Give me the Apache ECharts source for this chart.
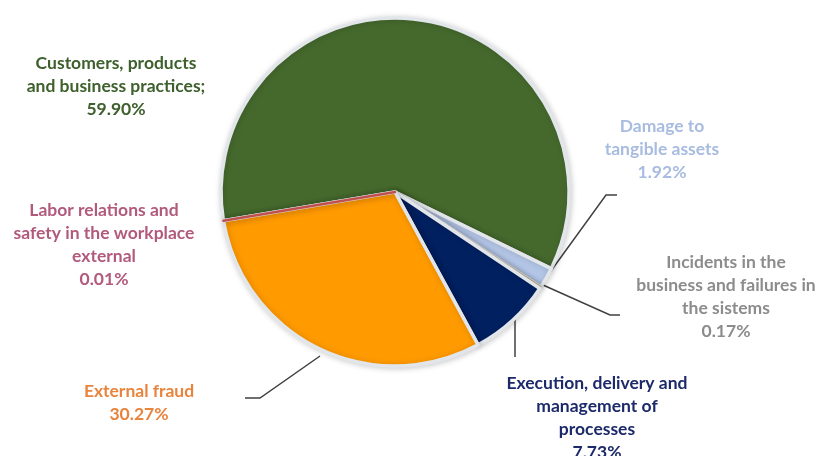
<!DOCTYPE html>
<html>
<head>
<meta charset="utf-8">
<script src="https://cdn.jsdelivr.net/npm/echarts@6/dist/echarts.min.js"></script>
<style>
  html, body { margin: 0; padding: 0; background: #ffffff; }
  #chart { width: 818px; height: 456px; }
</style>
</head>
<body>
<div id="chart"></div>
<script>
// Operational loss events by category (share of total, %)
const categories = [
  'Customers, products\nand business practices',
  'Damage to\ntangible assets',
  'Incidents in the\nbusiness and failures in\nthe sistems',
  'Execution, delivery and\nmanagement of\nprocesses',
  'External fraud',
  'Labor relations and\nsafety in the workplace\nexternal'
];
const shares = [59.90, 1.92, 0.17, 7.73, 30.27, 0.01];

const sliceColors = ['#45692D', '#B4C6E7', '#B5A57A', '#002060', '#FF9A00', '#C0504D'];
const labelColors = ['#3D602C', '#A8BBE0', '#8C8C8C', '#1C2A6A', '#E8843C', '#B25A7C'];

// label anchor (centre x, top y) and leader line per slice
const labelSpots = [
  { x: 116, y: 52, line: null },
  { x: 662, y: 115, line: [[548, 275], [606, 195], [617, 195]] },
  { x: 726, y: 251, line: [[543, 285], [610, 315], [620, 315]] },
  { x: 597, y: 372, line: [[515, 318], [515, 338], [515, 357]] },
  { x: 139, y: 380, line: [[320, 356], [260, 398], [245, 398]] },
  { x: 104, y: 199, line: null }
];

const chart = echarts.init(document.getElementById('chart'), null, { renderer: 'canvas' });

const data = categories.map((name, i) => ({
  name: name,
  value: shares[i],
  itemStyle: {
    color: sliceColors[i],
    borderColor: (i === 2 || i === 5) ? sliceColors[i] : '#E2E6EB',
    borderWidth: i === 2 ? 1.5 : (i === 5 ? 2.5 : 3.5)
  },
  label: { color: labelColors[i] },
  labelLine: { show: !!labelSpots[i].line }
}));

chart.setOption({
  animation: false,
  series: [{
    type: 'pie',
    center: [395, 192],
    radius: 174,
    startAngle: 189.5,
    clockwise: true,
    avoidLabelOverlap: false,
    data: data,
    itemStyle: {
      shadowBlur: 6,
      shadowColor: 'rgba(0,0,0,0.18)',
      shadowOffsetX: 1,
      shadowOffsetY: 1
    },
    label: {
      show: true,
      position: 'outside',
      fontFamily: 'Lato',
      fontWeight: 'bold',
      fontSize: 17.5,
      lineHeight: 23,
      align: 'center',
      formatter: p => p.name + (p.dataIndex === 0 ? ';' : '') + '\n' + p.value.toFixed(2) + '%'
    },
    labelLine: {
      show: true,
      lineStyle: { color: '#404040', width: 1.5 }
    },
    labelLayout: function (params) {
      const s = labelSpots[params.dataIndex];
      const out = { x: s.x, y: s.y, align: 'center', verticalAlign: 'top' };
      if (s.line) out.labelLinePoints = s.line;
      return out;
    }
  }]
});
</script>
</body>
</html>
